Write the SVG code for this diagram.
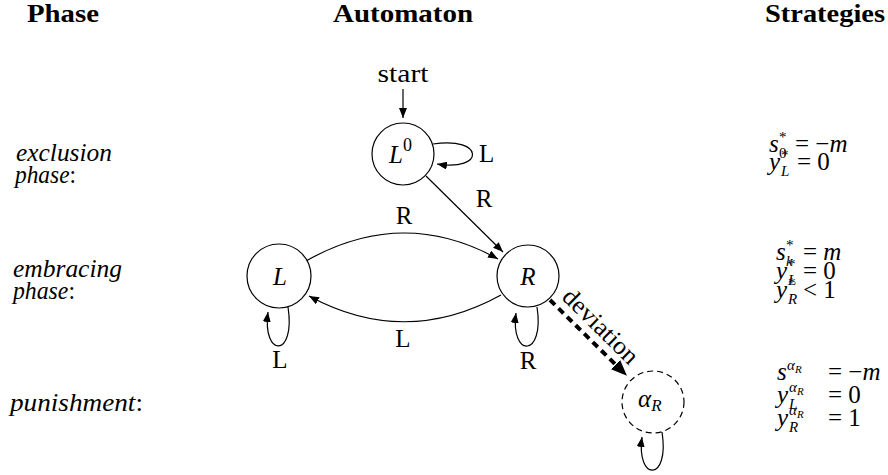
<svg xmlns="http://www.w3.org/2000/svg" width="888" height="475" viewBox="0 0 888 475">
<style>
text{font-family:"Liberation Serif","Times New Roman",serif;font-size:25px;fill:#000}
.h{font-weight:bold;font-size:26px}
.i{font-style:italic}
.c{text-anchor:middle}
.sup{font-size:15px}
.ss{font-size:11px}
.node{fill:#fff;stroke:#000;stroke-width:1.2}
.dash{stroke-dasharray:6 4}
.edge{fill:none;stroke:#000;stroke-width:1.2}
.dev{fill:none;stroke:#000;stroke-width:4;stroke-dasharray:7 5}
</style>
<defs>
<marker id="a" markerUnits="userSpaceOnUse" markerWidth="11" markerHeight="8" refX="10" refY="4" orient="auto"><path d="M0,0 L10,4 L0,8 z" fill="#000"/></marker>
<marker id="ab" markerUnits="userSpaceOnUse" markerWidth="17" markerHeight="13" refX="2" refY="6.5" orient="auto"><path d="M0,0 L16,6.5 L0,13 z" fill="#000"/></marker>
</defs>

<g id="headings">
<text class="h" x="27" y="22" textLength="72" lengthAdjust="spacingAndGlyphs">Phase</text>
<text class="h" x="333" y="22" textLength="140" lengthAdjust="spacingAndGlyphs">Automaton</text>
<text class="h" x="765" y="22" textLength="120" lengthAdjust="spacingAndGlyphs">Strategies</text>
</g>

<g id="phases">
<text class="i" x="16" y="161" textLength="96" lengthAdjust="spacingAndGlyphs">exclusion</text>
<text x="15" y="183" textLength="61" lengthAdjust="spacingAndGlyphs"><tspan class="i">phase</tspan>:</text>
<text class="i" x="13" y="277" textLength="109" lengthAdjust="spacingAndGlyphs">embracing</text>
<text x="13" y="299" textLength="62" lengthAdjust="spacingAndGlyphs"><tspan class="i">phase</tspan>:</text>
<text x="10" y="411" textLength="133" lengthAdjust="spacingAndGlyphs"><tspan class="i">punishment</tspan>:</text>
</g>

<g id="connectors">
<path class="edge" d="M403,89 L403,118" marker-end="url(#a)"/>
<path class="edge" d="M433,144 C485,136 485,172 437,164" marker-end="url(#a)"/>
<path class="edge" d="M426,176 L503,252" marker-end="url(#a)"/>
<path class="edge" d="M306,261 Q403,206 498,259" marker-end="url(#a)"/>
<path class="edge" d="M501,295 Q405,348 309,296" marker-end="url(#a)"/>
<path class="edge" d="M288,307 C296,358 262,358 268,312" marker-end="url(#a)"/>
<path class="edge" d="M537,307 C545,358 510,358 516,313" marker-end="url(#a)"/>
<path class="edge" d="M662,432 C670,482 636,482 642,437" marker-end="url(#a)"/>
<path class="dev" d="M550,300 L617,366" marker-end="url(#ab)"/>
<text x="403" y="82" class="c" textLength="51" lengthAdjust="spacingAndGlyphs">start</text>
<text x="479" y="162">L</text>
<text x="484" y="207" class="c">R</text>
<text x="404" y="224" class="c">R</text>
<text x="403" y="347" class="c">L</text>
<text x="280" y="368" class="c">L</text>
<text x="528" y="369" class="c">R</text>
<text x="595" y="332" class="c" transform="rotate(44.6 595 332)" textLength="96" lengthAdjust="spacingAndGlyphs">deviation</text>
</g>

<g id="node-L0">
<circle class="node" cx="403" cy="154" r="31"/>
<text x="389" y="163"><tspan class="i">L</tspan><tspan dy="-12" style="font-size:18px">0</tspan></text>
</g>

<g id="node-L">
<circle class="node" cx="279" cy="276" r="32"/>
<text class="i c" x="280" y="285">L</text>
</g>

<g id="node-R">
<circle class="node" cx="528" cy="276" r="31"/>
<text class="i c" x="528" y="285">R</text>
</g>

<g id="node-alphaR">
<circle class="node dash" cx="653" cy="402" r="31"/>
<text class="i" x="638" y="407">α<tspan dy="4" style="font-size:17px">R</tspan></text>
</g>

<g id="strategies">
<text x="769" y="152"><tspan class="i">s</tspan><tspan class="sup" x="779" dy="-10">*</tspan><tspan class="sup" x="779" dy="16">0</tspan><tspan x="795" dy="-6">= −</tspan><tspan class="i">m</tspan></text>
<text x="769" y="170"><tspan class="i">y</tspan><tspan class="sup" x="781" dy="-10">*</tspan><tspan class="sup i" x="781" dy="16">L</tspan><tspan x="797" dy="-6">= 0</tspan></text>

<text x="776" y="260"><tspan class="i">s</tspan><tspan class="sup" x="786" dy="-10">*</tspan><tspan class="sup i" x="786" dy="16">k</tspan><tspan x="803" dy="-6">= </tspan><tspan class="i">m</tspan></text>
<text x="776" y="279"><tspan class="i">y</tspan><tspan class="sup" x="788" dy="-10">*</tspan><tspan class="sup i" x="788" dy="16">L</tspan><tspan x="803" dy="-6">= 0</tspan></text>
<text x="776" y="298"><tspan class="i">y</tspan><tspan class="sup" x="788" dy="-10">*</tspan><tspan class="sup i" x="788" dy="16">R</tspan><tspan x="803" dy="-6">&lt; 1</tspan></text>

<text x="777" y="380"><tspan class="i">s</tspan><tspan class="sup i" x="787" dy="-10">α</tspan><tspan class="ss i" dy="3">R</tspan><tspan x="828" dy="7">= −</tspan><tspan class="i">m</tspan></text>
<text x="777" y="403"><tspan class="i">y</tspan><tspan class="sup i" x="789" dy="-11">α</tspan><tspan class="ss i" dy="3">R</tspan><tspan class="sup i" x="789" dy="14">L</tspan><tspan x="828" dy="-6">= 0</tspan></text>
<text x="777" y="426"><tspan class="i">y</tspan><tspan class="sup i" x="789" dy="-11">α</tspan><tspan class="ss i" dy="3">R</tspan><tspan class="sup i" x="789" dy="14">R</tspan><tspan x="828" dy="-6">= 1</tspan></text>
</g>
</svg>
